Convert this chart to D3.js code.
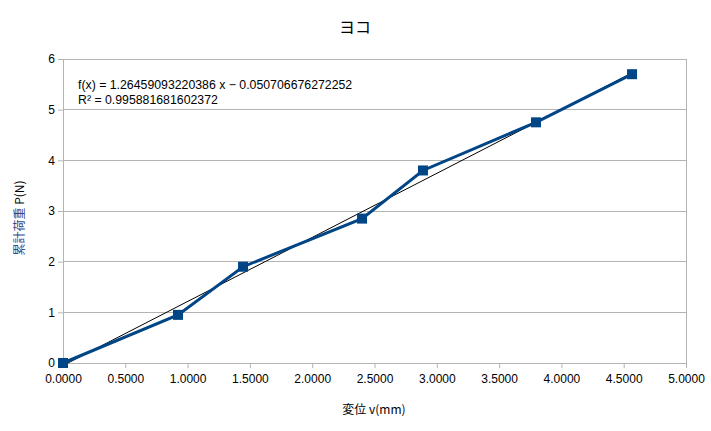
<!DOCTYPE html>
<html><head><meta charset="utf-8">
<script src="https://cdn.jsdelivr.net/npm/d3@7"></script>
<style>body{margin:0;background:#fff}svg{display:block}</style>
</head><body>
<svg id="c" width="711" height="431"></svg>
<script>
const xValues = [0, 0.923, 1.445, 2.40, 2.889, 3.796, 4.567];
const yValues = [0, 0.95, 1.90, 2.85, 3.80, 4.75, 5.70];
const xTicks = [0, 0.5, 1, 1.5, 2, 2.5, 3, 3.5, 4, 4.5, 5];
const yTicks = [0, 1, 2, 3, 4, 5, 6];
const slope = 1.26459093220386, intercept = -0.050706676272252;
const eqLines = ["f(x) = 1.26459093220386 x \u2212 0.050706676272252", "R\u00b2 = 0.995881681602372"];
const title = "ヨコ", xTitle = "変位 v(mm)";

const svg = d3.select("#c");
const font = "'Liberation Sans', Arial, sans-serif";
const L = 63, R = 686, T = 59, B = 363;
const x = d3.scaleLinear().domain([0, 5]).range([L, R]);
const y = d3.scaleLinear().domain([0, 6]).range([B, T]);

svg.append("g").selectAll("line").data(yTicks).join("line")
  .attr("x1", L).attr("x2", R).attr("y1", d => y(d)).attr("y2", d => y(d))
  .attr("stroke", "#b3b3b3").attr("stroke-width", 1).attr("shape-rendering", "crispEdges");
svg.append("line").attr("x1", R).attr("x2", R).attr("y1", T).attr("y2", B)
  .attr("stroke", "#b3b3b3").attr("shape-rendering", "crispEdges");

const xAxis = svg.append("g").attr("transform", `translate(0,${B})`)
  .call(d3.axisBottom(x).tickValues(xTicks).tickFormat(d3.format(".4f")).tickSizeOuter(0).tickSizeInner(5).tickPadding(4));
const yAxis = svg.append("g").attr("transform", `translate(${L},0)`)
  .call(d3.axisLeft(y).tickValues(yTicks).tickFormat(d3.format("d")).tickSizeOuter(0).tickSizeInner(5).tickPadding(3));
[xAxis, yAxis].forEach(a => {
  a.select(".domain").attr("stroke", "#b3b3b3");
  a.selectAll(".tick line").attr("stroke", "#b3b3b3");
  a.selectAll(".tick text").attr("fill", "#000").style("font-family", font).style("font-size", "12px");
});
xAxis.selectAll(".tick text").attr("dy", "0.9em");

const xmin = d3.min(xValues), xmax = d3.max(xValues);
svg.append("line")
  .attr("x1", x(xmin)).attr("y1", y(slope * xmin + intercept))
  .attr("x2", x(xmax)).attr("y2", y(slope * xmax + intercept))
  .attr("stroke", "#000").attr("stroke-width", 1);

const pts = xValues.map((v, i) => [v, yValues[i]]);
svg.append("path").datum(pts)
  .attr("d", d3.line().x(d => x(d[0])).y(d => y(d[1])))
  .attr("fill", "none").attr("stroke", "#004586").attr("stroke-width", 3);
svg.append("g").selectAll("rect").data(pts).join("rect")
  .attr("x", d => x(d[0]) - 5).attr("y", d => y(d[1]) - 5)
  .attr("width", 10).attr("height", 10).attr("fill", "#004586");

svg.append("g").selectAll("text").data(eqLines).join("text")
  .attr("x", 78).attr("y", (d, i) => 89 + i * 15)
  .style("font-family", font).style("font-size", "12.3px").attr("fill", "#000")
  .text(d => d);

svg.append("text").attr("x", 355).attr("y", 33).attr("text-anchor", "middle")
  .style("font-family", "'Noto Sans CJK JP', sans-serif").style("font-size", "16px").text(title);
svg.append("text").attr("x", 374).attr("y", 414).attr("text-anchor", "middle")
  .style("font-family", "'Noto Sans CJK JP', 'Liberation Sans', sans-serif").style("font-size", "12px").text(xTitle);
const yl = svg.append("text").attr("transform", "translate(24,218) rotate(-90)").attr("text-anchor", "middle")
  .style("font-family", "'Noto Sans CJK JP', 'Liberation Sans', sans-serif").style("font-size", "12px");
yl.append("tspan").attr("fill", "#2a4a8a").text("累計荷重");
yl.append("tspan").attr("fill", "#000").text(" P(N)");
</script>
</body></html>
